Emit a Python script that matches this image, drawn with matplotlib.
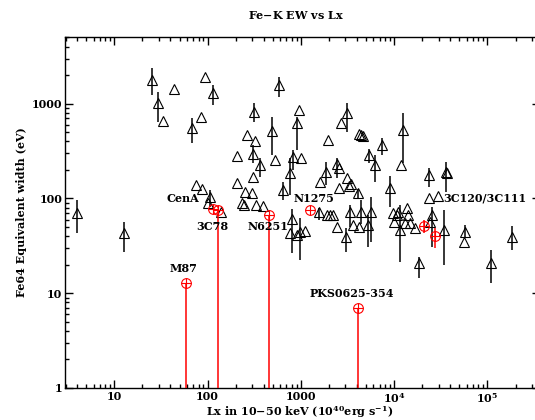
import matplotlib
matplotlib.use("Agg")
import matplotlib.pyplot as plt
import numpy as np
from matplotlib.ticker import FixedLocator, FuncFormatter, LogLocator, NullFormatter

# black sources: Lx (1e40 erg/s), Fe-K EW (eV), lower / upper error bounds
lx = [4.0, 12.8, 25.5, 29.2, 33, 44, 67.6, 84.4, 94.4, 115,
      74.5, 86.5, 106, 102, 139, 205, 208, 232, 243, 252,
      263, 297, 304, 304, 317, 322, 330, 365, 390, 494,
      534, 587, 643, 764, 816, 901, 961, 995, 1603, 1858,
      1967, 2456, 2560, 2560, 2671, 3143, 3098, 3303, 3444, 4122,
      4200, 4406, 4600, 5406, 6300, 7496, 9020, 11740, 12530, 23770,
      35870, 37000, 23770, 29230, 796, 901, 977, 1106, 764, 1563,
      1900, 2051, 2200, 2420, 3041, 3357, 4406, 4198, 5270, 5631,
      3648, 9770, 10640, 11070, 10020, 11530, 13610, 14160, 13060, 14760,
      16710, 25230, 24220, 34440, 57380, 56400, 181600, 109200, 18460]
ew = [71, 43, 1790, 1030, 660, 1430, 561, 732, 1910, 1290,
      139, 125, 103, 90.5, 72.7, 145, 284, 89, 86, 118,
      464, 115, 170, 296, 827, 406, 85.6, 226, 83.5, 511,
      256, 1584, 123, 185, 273, 633, 862, 268, 150, 190,
      416, 232, 209, 128, 624, 796, 164, 134, 143, 114,
      475, 469, 460, 289, 226, 368, 128, 226, 530, 175,
      192, 185, 102, 105, 61, 41.3, 44.7, 45.8, 43.3, 72.7,
      67, 67, 67, 50.5, 39.6, 72.7, 72.7, 50.5, 52.6, 72.7,
      52.6, 70, 67, 72.7, 57, 46.6, 79, 67, 55.3, 54.9,
      48.6, 67, 57, 46.6, 44.7, 35, 39.6, 20.7, 20.7]
ew_lo = [43, 27.5, 1240, 644, 660, 1430, 386, 732, 1910, 973,
         139, 125, 81.5, 90.5, 72.7, 145, 284, 89, 86, 118,
         464, 115, 170, 238, 644, 406, 85.6, 170, 83.5, 289,
         256, 1191, 97, 109, 200, 326, 862, 268, 150, 139,
         416, 165, 209, 128, 624, 505, 164, 134, 143, 100,
         475, 469, 460, 238, 150, 289, 82, 226, 238, 133,
         118, 185, 102, 105, 26.7, 41.3, 22.5, 45.8, 43.3, 60,
         67, 67, 67, 50.5, 27.5, 50, 54, 50.5, 30.8, 35,
         52.6, 70, 67, 72.7, 57, 21.4, 79, 67, 55.3, 54.9,
         48.6, 30.8, 57, 19.9, 38, 35, 28.7, 12.8, 14.5]
ew_hi = [97, 57, 2390, 1340, 660, 1430, 710, 732, 1910, 1585,
         139, 125, 123, 90.5, 72.7, 145, 284, 89, 86, 118,
         464, 115, 170, 368, 1023, 406, 85.6, 268, 83.5, 732,
         256, 1937, 150, 268, 326, 732, 862, 268, 150, 243,
         416, 268, 209, 128, 624, 1023, 164, 134, 143, 126,
         475, 469, 460, 330, 289, 430, 173, 226, 801, 211,
         245, 185, 102, 105, 77.6, 41.3, 62, 45.8, 43.3, 80,
         67, 67, 67, 50.5, 49, 86, 96, 50.5, 67, 104,
         52.6, 70, 67, 72.7, 57, 85.6, 79, 67, 55.3, 54.9,
         48.6, 81.5, 57, 75.8, 52, 35, 51.7, 28.7, 24.3]

# red (radio galaxy) sources
red_lx = [115, 128, 58.6, 450, 1254, 4122, 21030, 27350]
red_ew = [77, 75.8, 12.9, 67, 75.8, 7.05, 51.4, 40.6]
red_lo = [77, 0.5, 0.5, 0.5, 75.8, 0.5, 43.3, 30]
red_hi = [77, 75.8, 12.9, 67, 75.8, 7.05, 59.4, 49]

# source labels
lab_text = ["CenA", "3C78", "M87", "N6251", "N1275", "PKS0625-354", "3C120/3C111"]
lab_x = [54.5, 111, 55, 448, 1393, 3500, 33340]
lab_y = [101, 50.5, 18.1, 50.5, 101, 10, 101]
lab_ha = ["center", "center", "center", "center", "center", "center", "left"]

plt.rcParams["font.family"] = "DejaVu Serif"
plt.rcParams["font.weight"] = "bold"
plt.rcParams["mathtext.fontset"] = "dejavuserif"
plt.rcParams["mathtext.default"] = "bf"

fig = plt.figure(figsize=(5.35, 4.2), dpi=100)
ax = fig.add_axes([65 / 535, 32 / 420, 475 / 535, 350.5 / 420])

ew = np.array(ew)
yerr = [ew - np.array(ew_lo), np.array(ew_hi) - ew]
ax.errorbar(lx, ew, yerr=yerr, fmt="^", mfc="none", mec="black", ms=7,
            mew=0.8, ecolor="black", elinewidth=1.1, capsize=0, zorder=3)

red_ew = np.array(red_ew)
ryerr = [red_ew - np.array(red_lo), np.array(red_hi) - red_ew]
ax.errorbar(red_lx, red_ew, yerr=ryerr, fmt="none", ecolor="red",
            elinewidth=1.1, capsize=0, zorder=4)
ax.plot(red_lx, red_ew, "o", mfc="none", mec="red", ms=7, mew=0.8, zorder=5)
ax.plot(red_lx, red_ew, "+", color="red", ms=7, mew=0.8, zorder=5)

for t, x, y, ha in zip(lab_text, lab_x, lab_y, lab_ha):
    ax.text(x, y, t, ha=ha, va="center", fontsize=8, fontweight="bold", zorder=6)

ax.set_xscale("log")
ax.set_yscale("log")
ax.set_xlim(2.96, 3.66e5)
ax.set_ylim(1, 5000)

def xfmt(v, pos):
    e = int(round(np.log10(v)))
    if e <= 3:
        return "%d" % round(v)
    return r"$10^{%d}$" % e

ax.xaxis.set_major_locator(FixedLocator([10, 100, 1000, 1e4, 1e5]))
ax.xaxis.set_major_formatter(FuncFormatter(xfmt))
ax.xaxis.set_minor_locator(LogLocator(base=10, subs=np.arange(2, 10), numticks=20))
ax.xaxis.set_minor_formatter(NullFormatter())
ax.yaxis.set_major_locator(FixedLocator([1, 10, 100, 1000]))
ax.yaxis.set_major_formatter(FuncFormatter(lambda v, p: "%d" % round(v)))
ax.yaxis.set_minor_locator(LogLocator(base=10, subs=np.arange(2, 10), numticks=20))
ax.yaxis.set_minor_formatter(NullFormatter())

ax.tick_params(which="both", direction="in", top=True, right=True, labelsize=8, width=1)
ax.tick_params(which="major", length=6, pad=2)
ax.tick_params(which="minor", length=3)
for s in ax.spines.values():
    s.set_linewidth(1)

fig.text(300 / 535, 1 - 412 / 420, r"Lx in 10$-$50 keV (10$^{40}$erg s$^{-1}$)",
         ha="center", va="center", fontsize=8)
fig.text(22 / 535, 1 - 212 / 420, "Fe64 Equivalent width (eV)", rotation=90,
         ha="center", va="center", fontsize=8)
fig.text(296 / 535, 1 - 15 / 420, "Fe$-$K EW vs Lx", ha="center", va="center", fontsize=8)

fig.savefig("out.png", dpi=100)
